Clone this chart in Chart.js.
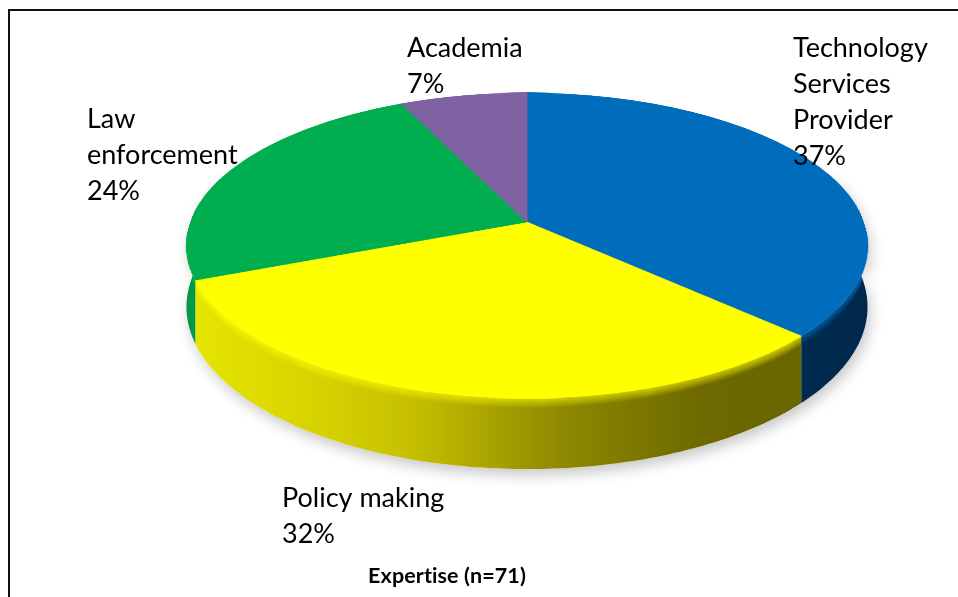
<!DOCTYPE html>
<html>
<head>
<meta charset="utf-8">
<title>Expertise</title>
<script src="https://cdn.jsdelivr.net/npm/chart.js@4.4.0/dist/chart.umd.min.js"></script>
<style>
  html, body { margin: 0; padding: 0; background: #fff; overflow: hidden; }
  #wrap { position: relative; width: 958px; height: 597px; }
  #frame {
    position: absolute; left: 8px; top: 9px; width: 1200px; height: 1200px;
    border-left: 2px solid #111; border-top: 2px solid #111;
  }
  canvas { position: absolute; left: 0; top: 0; }
</style>
</head>
<body>
<div id="wrap">
  <div id="frame"></div>
  <canvas id="chart-expertise" width="958" height="597"></canvas>
</div>
<script>
const categories = ['Technology Services Provider', 'Policy making', 'Law enforcement', 'Academia'];
const labelLines = [['Technology', 'Services', 'Provider'], ['Policy making'], ['Law', 'enforcement'], ['Academia']];
const shares = [37, 32, 24, 7];
const sampleSize = 71;

// top face colours, then the darker side walls
const topColors = ['#006cbc', '#ffff00', '#00ae4f', '#7f62a1'];
const sideStops = [
  [[0, '#003c6c'], [1, '#00284c']],
  [[0, '#e6e600'], [0.2, '#d6d200'], [0.34, '#c4be00'], [0.55, '#8e8900'], [0.75, '#6e6a00'], [1, '#666200']],
  [[0, '#009a44'], [1, '#007a36']],
  [[0, '#5f4a80'], [1, '#5f4a80']]
];

// perspective view of the disc: centre on screen, half axes, perspective factor, wall height
const view = { cx: 527, cy: 222, kx: 336.5, ky: 149, persp: 0.154, wall: 60 };

const labelPos = [[793, 57], [282, 507], [87, 128], [407, 57]];
const lineHeight = 36;

// disc point (u, v) on the unit circle, h = 0 top face, 1 bottom of wall
function project(u, v, h) {
  const w = 1 - view.persp * v;
  return [view.cx + view.kx * u / w, view.cy + (view.ky * v + h * view.wall) / w];
}

function wallPath(ctx, s, e) {
  const n = Math.max(4, Math.ceil((e - s) * 60));
  ctx.beginPath();
  for (let k = 0; k <= n; k++) {
    const a = s + (e - s) * k / n;
    const [px, py] = project(Math.cos(a), Math.sin(a), 0);
    k === 0 ? ctx.moveTo(px, py) : ctx.lineTo(px, py);
  }
  for (let k = n; k >= 0; k--) {
    const a = s + (e - s) * k / n;
    const [px, py] = project(Math.cos(a), Math.sin(a), 1);
    ctx.lineTo(px, py);
  }
  ctx.closePath();
}

function rimPath(ctx, s, e, dy) {
  const n = Math.max(4, Math.ceil((e - s) * 60));
  ctx.beginPath();
  for (let k = 0; k <= n; k++) {
    const a = s + (e - s) * k / n;
    const [px, py] = project(Math.cos(a), Math.sin(a), 0);
    k === 0 ? ctx.moveTo(px, py + dy) : ctx.lineTo(px, py + dy);
  }
}

const pie3d = {
  id: 'pie3d',
  afterDatasetsDraw(chart) {
    const ctx = chart.ctx;
    const canvas = chart.canvas;
    const arcs = chart.getDatasetMeta(0).data;
    const ax = arcs[0].x, ay = arcs[0].y, r = arcs[0].outerRadius;

    // keep the flat pie Chart.js just drew, then lay it down in perspective
    const flat = document.createElement('canvas');
    flat.width = canvas.width;
    flat.height = canvas.height;
    flat.getContext('2d').drawImage(canvas, 0, 0);

    ctx.save();
    ctx.setTransform(1, 0, 0, 1, 0, 0);
    ctx.clearRect(0, 0, canvas.width, canvas.height);

    const lo = -0.35, hi = Math.PI + 0.35;

    // soft shadow under the front wall
    ctx.save();
    ctx.shadowColor = 'rgba(0,0,0,0.22)';
    ctx.shadowBlur = 14;
    ctx.shadowOffsetX = 3;
    ctx.shadowOffsetY = 6;
    wallPath(ctx, lo, hi);
    ctx.fillStyle = '#fff';
    ctx.fill();
    ctx.restore();

    // side walls, one per slice, from the arc angles
    arcs.forEach((arc, i) => {
      const s = Math.max(arc.startAngle, lo);
      const e = Math.min(arc.endAngle, hi);
      if (e <= s) return;
      const grad = ctx.createLinearGradient(view.cx - 341, 0, view.cx + 341, 0);
      sideStops[i].forEach(([t, c]) => grad.addColorStop(t, c));
      wallPath(ctx, s, e);
      ctx.fillStyle = grad;
      ctx.fill();

      // rounded rim just below the top edge
      ctx.save();
      ctx.clip();
      ctx.strokeStyle = topColors[i];
      ctx.lineWidth = 1.3;
      for (let k = 0; k < 10; k++) {
        rimPath(ctx, s, e, k);
        ctx.globalAlpha = 0.55 * (1 - k / 10);
        ctx.stroke();
      }
      ctx.restore();
    });

    // top face, row by row
    const p = view.persp, ky = view.ky;
    const y0 = Math.floor(view.cy - ky / (1 + p));
    const y1 = Math.ceil(view.cy + ky / (1 - p));
    const toV = (off) => Math.max(-1, Math.min(1, off / (ky + p * off)));
    for (let y = y0; y < y1; y++) {
      const v0 = toV(y - view.cy), v1 = toV(y + 1 - view.cy);
      if (v1 <= v0) continue;
      const sc = view.kx / (r * (1 - p * (v0 + v1) / 2));
      const sy0 = ay + v0 * r, sh = (v1 - v0) * r;
      ctx.drawImage(flat, ax - r, sy0, 2 * r, sh, view.cx - sc * r, y, 2 * sc * r, 1);
    }
    ctx.restore();
  },
  afterDraw(chart) {
    const ctx = chart.ctx;
    ctx.save();
    ctx.fillStyle = '#000';
    ctx.textAlign = 'left';
    ctx.textBaseline = 'alphabetic';
    ctx.font = '27px Lato';
    labelLines.forEach((lines, i) => {
      const [lx, ly] = labelPos[i];
      lines.concat([shares[i] + '%']).forEach((t, j) => {
        ctx.fillText(t, lx, ly + j * lineHeight);
      });
    });
    ctx.font = 'bold 21.5px Lato';
    ctx.letterSpacing = '0.1px';
    ctx.textAlign = 'center';
    ctx.fillText('Expertise (n=' + sampleSize + ')', 447, 583);
    ctx.restore();
  }
};

new Chart(document.getElementById('chart-expertise'), {
  type: 'pie',
  data: {
    labels: categories,
    datasets: [{
      data: shares,
      backgroundColor: topColors,
      borderColor: topColors,
      borderWidth: 1
    }]
  },
  options: {
    responsive: false,
    animation: false,
    events: [],
    layout: { padding: 0 },
    plugins: {
      legend: { display: false },
      tooltip: { enabled: false },
      title: { display: false }
    }
  },
  plugins: [pie3d]
});
</script>
</body>
</html>
